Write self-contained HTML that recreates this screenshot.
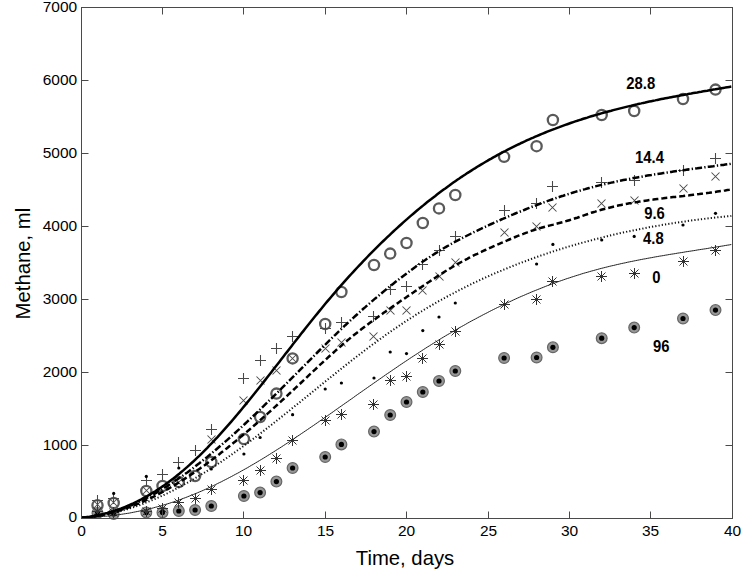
<!DOCTYPE html><html><head><meta charset="utf-8"><style>html,body{margin:0;padding:0;background:#fff;width:753px;height:585px;overflow:hidden}svg{display:block}</style></head><body><svg width="753" height="585" viewBox="0 0 753 585">
<rect width="753" height="585" fill="#fff"/>
<circle cx="97.5" cy="513.0" r="5.4" fill="#979797" stroke="#666" stroke-width="1.2"/><circle cx="97.5" cy="513.0" r="2.6" fill="#000"/>
<circle cx="113.7" cy="514.0" r="5.4" fill="#979797" stroke="#666" stroke-width="1.2"/><circle cx="113.7" cy="514.0" r="2.6" fill="#000"/>
<circle cx="146.3" cy="512.5" r="5.4" fill="#979797" stroke="#666" stroke-width="1.2"/><circle cx="146.3" cy="512.5" r="2.6" fill="#000"/>
<circle cx="162.5" cy="512.4" r="5.4" fill="#979797" stroke="#666" stroke-width="1.2"/><circle cx="162.5" cy="512.4" r="2.6" fill="#000"/>
<circle cx="178.8" cy="511.0" r="5.4" fill="#979797" stroke="#666" stroke-width="1.2"/><circle cx="178.8" cy="511.0" r="2.6" fill="#000"/>
<circle cx="195.1" cy="510.0" r="5.4" fill="#979797" stroke="#666" stroke-width="1.2"/><circle cx="195.1" cy="510.0" r="2.6" fill="#000"/>
<circle cx="211.3" cy="506.0" r="5.4" fill="#979797" stroke="#666" stroke-width="1.2"/><circle cx="211.3" cy="506.0" r="2.6" fill="#000"/>
<circle cx="243.9" cy="496.0" r="5.4" fill="#979797" stroke="#666" stroke-width="1.2"/><circle cx="243.9" cy="496.0" r="2.6" fill="#000"/>
<circle cx="260.1" cy="492.6" r="5.4" fill="#979797" stroke="#666" stroke-width="1.2"/><circle cx="260.1" cy="492.6" r="2.6" fill="#000"/>
<circle cx="276.4" cy="481.6" r="5.4" fill="#979797" stroke="#666" stroke-width="1.2"/><circle cx="276.4" cy="481.6" r="2.6" fill="#000"/>
<circle cx="292.6" cy="468.0" r="5.4" fill="#979797" stroke="#666" stroke-width="1.2"/><circle cx="292.6" cy="468.0" r="2.6" fill="#000"/>
<circle cx="325.2" cy="457.0" r="5.4" fill="#979797" stroke="#666" stroke-width="1.2"/><circle cx="325.2" cy="457.0" r="2.6" fill="#000"/>
<circle cx="341.4" cy="444.4" r="5.4" fill="#979797" stroke="#666" stroke-width="1.2"/><circle cx="341.4" cy="444.4" r="2.6" fill="#000"/>
<circle cx="374.0" cy="431.6" r="5.4" fill="#979797" stroke="#666" stroke-width="1.2"/><circle cx="374.0" cy="431.6" r="2.6" fill="#000"/>
<circle cx="390.2" cy="415.0" r="5.4" fill="#979797" stroke="#666" stroke-width="1.2"/><circle cx="390.2" cy="415.0" r="2.6" fill="#000"/>
<circle cx="406.5" cy="402.0" r="5.4" fill="#979797" stroke="#666" stroke-width="1.2"/><circle cx="406.5" cy="402.0" r="2.6" fill="#000"/>
<circle cx="422.8" cy="392.0" r="5.4" fill="#979797" stroke="#666" stroke-width="1.2"/><circle cx="422.8" cy="392.0" r="2.6" fill="#000"/>
<circle cx="439.0" cy="381.0" r="5.4" fill="#979797" stroke="#666" stroke-width="1.2"/><circle cx="439.0" cy="381.0" r="2.6" fill="#000"/>
<circle cx="455.3" cy="371.0" r="5.4" fill="#979797" stroke="#666" stroke-width="1.2"/><circle cx="455.3" cy="371.0" r="2.6" fill="#000"/>
<circle cx="504.1" cy="358.0" r="5.4" fill="#979797" stroke="#666" stroke-width="1.2"/><circle cx="504.1" cy="358.0" r="2.6" fill="#000"/>
<circle cx="536.6" cy="357.5" r="5.4" fill="#979797" stroke="#666" stroke-width="1.2"/><circle cx="536.6" cy="357.5" r="2.6" fill="#000"/>
<circle cx="552.9" cy="347.3" r="5.4" fill="#979797" stroke="#666" stroke-width="1.2"/><circle cx="552.9" cy="347.3" r="2.6" fill="#000"/>
<circle cx="601.7" cy="338.2" r="5.4" fill="#979797" stroke="#666" stroke-width="1.2"/><circle cx="601.7" cy="338.2" r="2.6" fill="#000"/>
<circle cx="634.2" cy="327.6" r="5.4" fill="#979797" stroke="#666" stroke-width="1.2"/><circle cx="634.2" cy="327.6" r="2.6" fill="#000"/>
<circle cx="683.0" cy="318.5" r="5.4" fill="#979797" stroke="#666" stroke-width="1.2"/><circle cx="683.0" cy="318.5" r="2.6" fill="#000"/>
<circle cx="715.5" cy="310.1" r="5.4" fill="#979797" stroke="#666" stroke-width="1.2"/><circle cx="715.5" cy="310.1" r="2.6" fill="#000"/>
<circle cx="97.5" cy="505.3" r="5.1" fill="none" stroke="#5a5a5a" stroke-width="2.3"/>
<circle cx="113.7" cy="503.0" r="5.1" fill="none" stroke="#5a5a5a" stroke-width="2.3"/>
<circle cx="146.3" cy="491.0" r="5.1" fill="none" stroke="#5a5a5a" stroke-width="2.3"/>
<circle cx="162.5" cy="486.0" r="5.1" fill="none" stroke="#5a5a5a" stroke-width="2.3"/>
<circle cx="178.8" cy="482.0" r="5.1" fill="none" stroke="#5a5a5a" stroke-width="2.3"/>
<circle cx="195.1" cy="476.0" r="5.1" fill="none" stroke="#5a5a5a" stroke-width="2.3"/>
<circle cx="211.3" cy="462.0" r="5.1" fill="none" stroke="#5a5a5a" stroke-width="2.3"/>
<circle cx="243.9" cy="439.0" r="5.1" fill="none" stroke="#5a5a5a" stroke-width="2.3"/>
<circle cx="260.1" cy="417.0" r="5.1" fill="none" stroke="#5a5a5a" stroke-width="2.3"/>
<circle cx="276.4" cy="393.6" r="5.1" fill="none" stroke="#5a5a5a" stroke-width="2.3"/>
<circle cx="292.6" cy="358.4" r="5.1" fill="none" stroke="#5a5a5a" stroke-width="2.3"/>
<circle cx="325.2" cy="324.0" r="5.1" fill="none" stroke="#5a5a5a" stroke-width="2.3"/>
<circle cx="341.4" cy="292.0" r="5.1" fill="none" stroke="#5a5a5a" stroke-width="2.3"/>
<circle cx="374.0" cy="265.0" r="5.1" fill="none" stroke="#5a5a5a" stroke-width="2.3"/>
<circle cx="390.2" cy="253.6" r="5.1" fill="none" stroke="#5a5a5a" stroke-width="2.3"/>
<circle cx="406.5" cy="243.0" r="5.1" fill="none" stroke="#5a5a5a" stroke-width="2.3"/>
<circle cx="422.8" cy="223.0" r="5.1" fill="none" stroke="#5a5a5a" stroke-width="2.3"/>
<circle cx="439.0" cy="208.4" r="5.1" fill="none" stroke="#5a5a5a" stroke-width="2.3"/>
<circle cx="455.3" cy="195.0" r="5.1" fill="none" stroke="#5a5a5a" stroke-width="2.3"/>
<circle cx="504.1" cy="156.8" r="5.1" fill="none" stroke="#5a5a5a" stroke-width="2.3"/>
<circle cx="536.6" cy="146.2" r="5.1" fill="none" stroke="#5a5a5a" stroke-width="2.3"/>
<circle cx="552.9" cy="120.0" r="5.1" fill="none" stroke="#5a5a5a" stroke-width="2.3"/>
<circle cx="601.7" cy="115.0" r="5.1" fill="none" stroke="#5a5a5a" stroke-width="2.3"/>
<circle cx="634.2" cy="111.0" r="5.1" fill="none" stroke="#5a5a5a" stroke-width="2.3"/>
<circle cx="683.0" cy="99.0" r="5.1" fill="none" stroke="#5a5a5a" stroke-width="2.3"/>
<circle cx="715.5" cy="89.6" r="5.1" fill="none" stroke="#5a5a5a" stroke-width="2.3"/>
<path d="M92.0,500.5H103.0M97.5,495.0V506.0" stroke="#484848" stroke-width="1.05" fill="none"/>
<path d="M108.0,498.5H119.0M113.5,493.0V504.0" stroke="#484848" stroke-width="1.05" fill="none"/>
<path d="M141.0,480.5H152.0M146.5,475.0V486.0" stroke="#484848" stroke-width="1.05" fill="none"/>
<path d="M157.0,474.5H168.0M162.5,469.0V480.0" stroke="#484848" stroke-width="1.05" fill="none"/>
<path d="M173.0,462.5H184.0M178.5,457.0V468.0" stroke="#484848" stroke-width="1.05" fill="none"/>
<path d="M190.0,450.5H201.0M195.5,445.0V456.0" stroke="#484848" stroke-width="1.05" fill="none"/>
<path d="M206.0,429.5H217.0M211.5,424.0V435.0" stroke="#484848" stroke-width="1.05" fill="none"/>
<path d="M238.0,378.5H249.0M243.5,373.0V384.0" stroke="#484848" stroke-width="1.05" fill="none"/>
<path d="M255.0,360.5H266.0M260.5,355.0V366.0" stroke="#484848" stroke-width="1.05" fill="none"/>
<path d="M271.0,348.5H282.0M276.5,343.0V354.0" stroke="#484848" stroke-width="1.05" fill="none"/>
<path d="M287.0,336.5H298.0M292.5,331.0V342.0" stroke="#484848" stroke-width="1.05" fill="none"/>
<path d="M320.0,328.5H331.0M325.5,323.0V334.0" stroke="#484848" stroke-width="1.05" fill="none"/>
<path d="M336.0,322.5H347.0M341.5,317.0V328.0" stroke="#484848" stroke-width="1.05" fill="none"/>
<path d="M368.0,316.5H379.0M373.5,311.0V322.0" stroke="#484848" stroke-width="1.05" fill="none"/>
<path d="M385.0,289.5H396.0M390.5,284.0V295.0" stroke="#484848" stroke-width="1.05" fill="none"/>
<path d="M401.0,286.5H412.0M406.5,281.0V292.0" stroke="#484848" stroke-width="1.05" fill="none"/>
<path d="M417.0,264.5H428.0M422.5,259.0V270.0" stroke="#484848" stroke-width="1.05" fill="none"/>
<path d="M434.0,250.5H445.0M439.5,245.0V256.0" stroke="#484848" stroke-width="1.05" fill="none"/>
<path d="M450.0,236.5H461.0M455.5,231.0V242.0" stroke="#484848" stroke-width="1.05" fill="none"/>
<path d="M499.0,210.5H510.0M504.5,205.0V216.0" stroke="#484848" stroke-width="1.05" fill="none"/>
<path d="M531.0,203.5H542.0M536.5,198.0V209.0" stroke="#484848" stroke-width="1.05" fill="none"/>
<path d="M547.0,186.5H558.0M552.5,181.0V192.0" stroke="#484848" stroke-width="1.05" fill="none"/>
<path d="M596.0,182.5H607.0M601.5,177.0V188.0" stroke="#484848" stroke-width="1.05" fill="none"/>
<path d="M629.0,180.5H640.0M634.5,175.0V186.0" stroke="#484848" stroke-width="1.05" fill="none"/>
<path d="M678.0,170.5H689.0M683.5,165.0V176.0" stroke="#484848" stroke-width="1.05" fill="none"/>
<path d="M710.0,158.5H721.0M715.5,153.0V164.0" stroke="#484848" stroke-width="1.05" fill="none"/>
<path d="M93.5,500.5L101.5,508.5M93.5,508.5L101.5,500.5" stroke="#484848" stroke-width="1.05" fill="none"/>
<path d="M109.5,498.5L117.5,506.5M109.5,506.5L117.5,498.5" stroke="#484848" stroke-width="1.05" fill="none"/>
<path d="M142.5,486.5L150.5,494.5M142.5,494.5L150.5,486.5" stroke="#484848" stroke-width="1.05" fill="none"/>
<path d="M174.5,478.5L182.5,486.5M174.5,486.5L182.5,478.5" stroke="#484848" stroke-width="1.05" fill="none"/>
<path d="M207.5,435.5L215.5,443.5M207.5,443.5L215.5,435.5" stroke="#484848" stroke-width="1.05" fill="none"/>
<path d="M239.5,396.5L247.5,404.5M239.5,404.5L247.5,396.5" stroke="#484848" stroke-width="1.05" fill="none"/>
<path d="M256.5,376.5L264.5,384.5M256.5,384.5L264.5,376.5" stroke="#484848" stroke-width="1.05" fill="none"/>
<path d="M272.5,366.5L280.5,374.5M272.5,374.5L280.5,366.5" stroke="#484848" stroke-width="1.05" fill="none"/>
<path d="M288.5,354.5L296.5,362.5M288.5,362.5L296.5,354.5" stroke="#484848" stroke-width="1.05" fill="none"/>
<path d="M321.5,344.5L329.5,352.5M321.5,352.5L329.5,344.5" stroke="#484848" stroke-width="1.05" fill="none"/>
<path d="M337.5,338.5L345.5,346.5M337.5,346.5L345.5,338.5" stroke="#484848" stroke-width="1.05" fill="none"/>
<path d="M369.5,332.5L377.5,340.5M369.5,340.5L377.5,332.5" stroke="#484848" stroke-width="1.05" fill="none"/>
<path d="M386.5,306.5L394.5,314.5M386.5,314.5L394.5,306.5" stroke="#484848" stroke-width="1.05" fill="none"/>
<path d="M402.5,306.5L410.5,314.5M402.5,314.5L410.5,306.5" stroke="#484848" stroke-width="1.05" fill="none"/>
<path d="M418.5,286.5L426.5,294.5M418.5,294.5L426.5,286.5" stroke="#484848" stroke-width="1.05" fill="none"/>
<path d="M435.5,272.5L443.5,280.5M435.5,280.5L443.5,272.5" stroke="#484848" stroke-width="1.05" fill="none"/>
<path d="M451.5,258.5L459.5,266.5M451.5,266.5L459.5,258.5" stroke="#484848" stroke-width="1.05" fill="none"/>
<path d="M500.5,228.5L508.5,236.5M500.5,236.5L508.5,228.5" stroke="#484848" stroke-width="1.05" fill="none"/>
<path d="M532.5,222.5L540.5,230.5M532.5,230.5L540.5,222.5" stroke="#484848" stroke-width="1.05" fill="none"/>
<path d="M548.5,203.5L556.5,211.5M548.5,211.5L556.5,203.5" stroke="#484848" stroke-width="1.05" fill="none"/>
<path d="M597.5,199.5L605.5,207.5M597.5,207.5L605.5,199.5" stroke="#484848" stroke-width="1.05" fill="none"/>
<path d="M630.5,196.5L638.5,204.5M630.5,204.5L638.5,196.5" stroke="#484848" stroke-width="1.05" fill="none"/>
<path d="M679.5,184.5L687.5,192.5M679.5,192.5L687.5,184.5" stroke="#484848" stroke-width="1.05" fill="none"/>
<path d="M711.5,172.5L719.5,180.5M711.5,180.5L719.5,172.5" stroke="#484848" stroke-width="1.05" fill="none"/>
<path d="M92.0,511.5H103.0M97.5,506.0V517.0M93.5,507.5L101.5,515.5M93.5,515.5L101.5,507.5" stroke="#333" stroke-width="1" fill="none"/>
<path d="M108.0,512.5H119.0M113.5,507.0V518.0M109.5,508.5L117.5,516.5M109.5,516.5L117.5,508.5" stroke="#333" stroke-width="1" fill="none"/>
<path d="M141.0,511.5H152.0M146.5,506.0V517.0M142.5,507.5L150.5,515.5M142.5,515.5L150.5,507.5" stroke="#333" stroke-width="1" fill="none"/>
<path d="M157.0,508.5H168.0M162.5,503.0V514.0M158.5,504.5L166.5,512.5M158.5,512.5L166.5,504.5" stroke="#333" stroke-width="1" fill="none"/>
<path d="M173.0,502.5H184.0M178.5,497.0V508.0M174.5,498.5L182.5,506.5M174.5,506.5L182.5,498.5" stroke="#333" stroke-width="1" fill="none"/>
<path d="M190.0,498.5H201.0M195.5,493.0V504.0M191.5,494.5L199.5,502.5M191.5,502.5L199.5,494.5" stroke="#333" stroke-width="1" fill="none"/>
<path d="M206.0,489.5H217.0M211.5,484.0V495.0M207.5,485.5L215.5,493.5M207.5,493.5L215.5,485.5" stroke="#333" stroke-width="1" fill="none"/>
<path d="M238.0,480.5H249.0M243.5,475.0V486.0M239.5,476.5L247.5,484.5M239.5,484.5L247.5,476.5" stroke="#333" stroke-width="1" fill="none"/>
<path d="M255.0,470.5H266.0M260.5,465.0V476.0M256.5,466.5L264.5,474.5M256.5,474.5L264.5,466.5" stroke="#333" stroke-width="1" fill="none"/>
<path d="M271.0,458.5H282.0M276.5,453.0V464.0M272.5,454.5L280.5,462.5M272.5,462.5L280.5,454.5" stroke="#333" stroke-width="1" fill="none"/>
<path d="M287.0,440.5H298.0M292.5,435.0V446.0M288.5,436.5L296.5,444.5M288.5,444.5L296.5,436.5" stroke="#333" stroke-width="1" fill="none"/>
<path d="M320.0,420.5H331.0M325.5,415.0V426.0M321.5,416.5L329.5,424.5M321.5,424.5L329.5,416.5" stroke="#333" stroke-width="1" fill="none"/>
<path d="M336.0,414.5H347.0M341.5,409.0V420.0M337.5,410.5L345.5,418.5M337.5,418.5L345.5,410.5" stroke="#333" stroke-width="1" fill="none"/>
<path d="M368.0,404.5H379.0M373.5,399.0V410.0M369.5,400.5L377.5,408.5M369.5,408.5L377.5,400.5" stroke="#333" stroke-width="1" fill="none"/>
<path d="M385.0,380.5H396.0M390.5,375.0V386.0M386.5,376.5L394.5,384.5M386.5,384.5L394.5,376.5" stroke="#333" stroke-width="1" fill="none"/>
<path d="M401.0,376.5H412.0M406.5,371.0V382.0M402.5,372.5L410.5,380.5M402.5,380.5L410.5,372.5" stroke="#333" stroke-width="1" fill="none"/>
<path d="M417.0,358.5H428.0M422.5,353.0V364.0M418.5,354.5L426.5,362.5M418.5,362.5L426.5,354.5" stroke="#333" stroke-width="1" fill="none"/>
<path d="M434.0,344.5H445.0M439.5,339.0V350.0M435.5,340.5L443.5,348.5M435.5,348.5L443.5,340.5" stroke="#333" stroke-width="1" fill="none"/>
<path d="M450.0,331.5H461.0M455.5,326.0V337.0M451.5,327.5L459.5,335.5M451.5,335.5L459.5,327.5" stroke="#333" stroke-width="1" fill="none"/>
<path d="M499.0,304.5H510.0M504.5,299.0V310.0M500.5,300.5L508.5,308.5M500.5,308.5L508.5,300.5" stroke="#333" stroke-width="1" fill="none"/>
<path d="M531.0,299.5H542.0M536.5,294.0V305.0M532.5,295.5L540.5,303.5M532.5,303.5L540.5,295.5" stroke="#333" stroke-width="1" fill="none"/>
<path d="M547.0,281.5H558.0M552.5,276.0V287.0M548.5,277.5L556.5,285.5M548.5,285.5L556.5,277.5" stroke="#333" stroke-width="1" fill="none"/>
<path d="M596.0,276.5H607.0M601.5,271.0V282.0M597.5,272.5L605.5,280.5M597.5,280.5L605.5,272.5" stroke="#333" stroke-width="1" fill="none"/>
<path d="M629.0,273.5H640.0M634.5,268.0V279.0M630.5,269.5L638.5,277.5M630.5,277.5L638.5,269.5" stroke="#333" stroke-width="1" fill="none"/>
<path d="M678.0,261.5H689.0M683.5,256.0V267.0M679.5,257.5L687.5,265.5M679.5,265.5L687.5,257.5" stroke="#333" stroke-width="1" fill="none"/>
<path d="M710.0,250.5H721.0M715.5,245.0V256.0M711.5,246.5L719.5,254.5M711.5,254.5L719.5,246.5" stroke="#333" stroke-width="1" fill="none"/>
<circle cx="113.7" cy="493.4" r="1.6" fill="#000"/>
<circle cx="146.3" cy="476.4" r="1.6" fill="#000"/>
<circle cx="178.8" cy="468.0" r="1.6" fill="#000"/>
<circle cx="211.3" cy="469.0" r="1.6" fill="#000"/>
<circle cx="243.9" cy="454.0" r="1.6" fill="#000"/>
<circle cx="260.1" cy="437.5" r="1.6" fill="#000"/>
<circle cx="292.6" cy="414.7" r="1.6" fill="#000"/>
<circle cx="325.2" cy="389.0" r="1.6" fill="#000"/>
<circle cx="341.4" cy="383.0" r="1.6" fill="#000"/>
<circle cx="374.0" cy="378.0" r="1.6" fill="#000"/>
<circle cx="390.2" cy="352.0" r="1.6" fill="#000"/>
<circle cx="406.5" cy="353.6" r="1.6" fill="#000"/>
<circle cx="422.8" cy="330.6" r="1.6" fill="#000"/>
<circle cx="439.0" cy="317.0" r="1.6" fill="#000"/>
<circle cx="455.3" cy="303.0" r="1.6" fill="#000"/>
<circle cx="536.6" cy="264.0" r="1.6" fill="#000"/>
<circle cx="552.9" cy="244.4" r="1.6" fill="#000"/>
<circle cx="601.7" cy="240.0" r="1.6" fill="#000"/>
<circle cx="634.2" cy="236.4" r="1.6" fill="#000"/>
<circle cx="683.0" cy="225.0" r="1.6" fill="#000"/>
<circle cx="715.5" cy="213.3" r="1.6" fill="#000"/>
<path d="M81.3,517.6 L83.3,517.6 L85.3,517.5 L87.3,517.5 L89.3,517.4 L91.3,517.3 L93.3,517.2 L95.3,517.1 L97.3,516.9 L99.3,516.8 L101.3,516.6 L103.3,516.4 L105.3,516.3 L107.3,516.1 L109.3,515.9 L111.3,515.6 L113.3,515.4 L115.3,515.2 L117.3,514.9 L119.3,514.6 L121.3,514.3 L123.3,514.0 L125.3,513.7 L127.3,513.4 L129.3,513.1 L131.3,512.7 L133.3,512.3 L135.3,511.9 L137.3,511.5 L139.3,511.1 L141.3,510.7 L143.3,510.3 L145.3,509.8 L147.3,509.4 L149.3,508.9 L151.3,508.4 L153.3,507.9 L155.3,507.3 L157.3,506.8 L159.3,506.3 L161.3,505.7 L163.3,505.1 L165.3,504.5 L167.3,503.9 L169.3,503.3 L171.3,502.6 L173.3,502.0 L175.3,501.3 L177.3,500.6 L179.3,499.9 L181.3,499.2 L183.3,498.4 L185.3,497.7 L187.3,496.9 L189.3,496.1 L191.3,495.3 L193.3,494.5 L195.3,493.7 L197.3,492.9 L199.3,492.0 L201.3,491.2 L203.3,490.3 L205.3,489.4 L207.3,488.5 L209.3,487.5 L211.3,486.6 L213.3,485.7 L215.3,484.7 L217.3,483.7 L219.3,482.7 L221.3,481.8 L223.3,480.7 L225.3,479.7 L227.3,478.7 L229.3,477.6 L231.3,476.6 L233.3,475.5 L235.3,474.4 L237.3,473.4 L239.3,472.3 L241.3,471.1 L243.3,470.0 L245.3,468.9 L247.3,467.8 L249.3,466.6 L251.3,465.4 L253.3,464.3 L255.3,463.1 L257.3,461.9 L259.3,460.7 L261.3,459.5 L263.3,458.3 L265.3,457.1 L267.3,455.8 L269.3,454.6 L271.3,453.3 L273.3,452.1 L275.3,450.8 L277.3,449.5 L279.3,448.3 L281.3,447.0 L283.3,445.7 L285.3,444.4 L287.3,443.1 L289.3,441.8 L291.3,440.4 L293.3,439.1 L295.3,437.8 L297.3,436.4 L299.3,435.1 L301.3,433.7 L303.3,432.4 L305.3,431.0 L307.3,429.7 L309.3,428.3 L311.3,426.9 L313.3,425.6 L315.3,424.2 L317.3,422.8 L319.3,421.4 L321.3,420.0 L323.3,418.6 L325.3,417.2 L327.3,415.9 L329.3,414.5 L331.3,413.1 L333.3,411.7 L335.3,410.2 L337.3,408.8 L339.3,407.4 L341.3,406.0 L343.3,404.6 L345.3,403.2 L347.3,401.8 L349.3,400.4 L351.3,399.0 L353.3,397.6 L355.3,396.1 L357.3,394.7 L359.3,393.3 L361.3,391.9 L363.3,390.5 L365.3,389.1 L367.3,387.7 L369.3,386.3 L371.3,384.9 L373.3,383.5 L375.3,382.1 L377.3,380.7 L379.3,379.3 L381.3,377.9 L383.3,376.5 L385.3,375.1 L387.3,373.7 L389.3,372.4 L391.3,371.0 L393.3,369.6 L395.3,368.3 L397.3,366.9 L399.3,365.5 L401.3,364.2 L403.3,362.8 L405.3,361.5 L407.3,360.2 L409.3,358.8 L411.3,357.5 L413.3,356.2 L415.3,354.9 L417.3,353.6 L419.3,352.3 L421.3,351.0 L423.3,349.7 L425.3,348.4 L427.3,347.1 L429.3,345.9 L431.3,344.6 L433.3,343.4 L435.3,342.1 L437.3,340.9 L439.3,339.7 L441.3,338.4 L443.3,337.2 L445.3,336.0 L447.3,334.8 L449.3,333.7 L451.3,332.5 L453.3,331.3 L455.3,330.1 L457.3,329.0 L459.3,327.8 L461.3,326.7 L463.3,325.6 L465.3,324.5 L467.3,323.3 L469.3,322.2 L471.3,321.1 L473.3,320.0 L475.3,319.0 L477.3,317.9 L479.3,316.8 L481.3,315.8 L483.3,314.7 L485.3,313.7 L487.3,312.7 L489.3,311.6 L491.3,310.6 L493.3,309.6 L495.3,308.6 L497.3,307.6 L499.3,306.7 L501.3,305.7 L503.3,304.7 L505.3,303.8 L507.3,302.8 L509.3,301.9 L511.3,301.0 L513.3,300.0 L515.3,299.1 L517.3,298.2 L519.3,297.3 L521.3,296.4 L523.3,295.6 L525.3,294.7 L527.3,293.8 L529.3,293.0 L531.3,292.1 L533.3,291.3 L535.3,290.5 L537.3,289.7 L539.3,288.9 L541.3,288.1 L543.3,287.3 L545.3,286.5 L547.3,285.7 L549.3,285.0 L551.3,284.2 L553.3,283.5 L555.3,282.8 L557.3,282.0 L559.3,281.3 L561.3,280.6 L563.3,279.9 L565.3,279.2 L567.3,278.5 L569.3,277.9 L571.3,277.2 L573.3,276.6 L575.3,275.9 L577.3,275.3 L579.3,274.7 L581.3,274.0 L583.3,273.4 L585.3,272.8 L587.3,272.3 L589.3,271.7 L591.3,271.1 L593.3,270.6 L595.3,270.0 L597.3,269.5 L599.3,268.9 L601.3,268.4 L603.3,267.9 L605.3,267.4 L607.3,266.9 L609.3,266.4 L611.3,265.9 L613.3,265.5 L615.3,265.0 L617.3,264.5 L619.3,264.1 L621.3,263.6 L623.3,263.2 L625.3,262.8 L627.3,262.3 L629.3,261.9 L631.3,261.5 L633.3,261.1 L635.3,260.7 L637.3,260.3 L639.3,259.9 L641.3,259.5 L643.3,259.1 L645.3,258.8 L647.3,258.4 L649.3,258.0 L651.3,257.7 L653.3,257.3 L655.3,256.9 L657.3,256.6 L659.3,256.2 L661.3,255.9 L663.3,255.6 L665.3,255.2 L667.3,254.9 L669.3,254.5 L671.3,254.2 L673.3,253.9 L675.3,253.6 L677.3,253.2 L679.3,252.9 L681.3,252.6 L683.3,252.3 L685.3,251.9 L687.3,251.6 L689.3,251.3 L691.3,251.0 L693.3,250.7 L695.3,250.4 L697.3,250.0 L699.3,249.7 L701.3,249.4 L703.3,249.1 L705.3,248.8 L707.3,248.5 L709.3,248.1 L711.3,247.8 L713.3,247.5 L715.3,247.2 L717.3,246.8 L719.3,246.5 L721.3,246.2 L723.3,245.9 L725.3,245.5 L727.3,245.2 L729.3,244.9 L731.3,244.5" fill="none" stroke="#222" stroke-width="1"/>
<path d="M81.3,517.5 L83.3,517.4 L85.3,517.3 L87.3,517.1 L89.3,516.9 L91.3,516.7 L93.3,516.5 L95.3,516.3 L97.3,516.0 L99.3,515.7 L101.3,515.4 L103.3,515.0 L105.3,514.6 L107.3,514.3 L109.3,513.8 L111.3,513.4 L113.3,513.0 L115.3,512.5 L117.3,512.0 L119.3,511.5 L121.3,510.9 L123.3,510.4 L125.3,509.8 L127.3,509.2 L129.3,508.6 L131.3,507.9 L133.3,507.3 L135.3,506.6 L137.3,505.9 L139.3,505.2 L141.3,504.5 L143.3,503.7 L145.3,502.9 L147.3,502.1 L149.3,501.3 L151.3,500.5 L153.3,499.7 L155.3,498.8 L157.3,497.9 L159.3,497.0 L161.3,496.1 L163.3,495.2 L165.3,494.2 L167.3,493.3 L169.3,492.3 L171.3,491.3 L173.3,490.3 L175.3,489.2 L177.3,488.2 L179.3,487.1 L181.3,486.1 L183.3,485.0 L185.3,483.9 L187.3,482.8 L189.3,481.6 L191.3,480.5 L193.3,479.3 L195.3,478.1 L197.3,477.0 L199.3,475.7 L201.3,474.5 L203.3,473.3 L205.3,472.1 L207.3,470.8 L209.3,469.5 L211.3,468.3 L213.3,467.0 L215.3,465.7 L217.3,464.3 L219.3,463.0 L221.3,461.7 L223.3,460.3 L225.3,459.0 L227.3,457.6 L229.3,456.2 L231.3,454.8 L233.3,453.4 L235.3,452.0 L237.3,450.5 L239.3,449.1 L241.3,447.7 L243.3,446.2 L245.3,444.7 L247.3,443.3 L249.3,441.8 L251.3,440.3 L253.3,438.8 L255.3,437.3 L257.3,435.8 L259.3,434.2 L261.3,432.7 L263.3,431.2 L265.3,429.6 L267.3,428.1 L269.3,426.5 L271.3,425.0 L273.3,423.4 L275.3,421.8 L277.3,420.2 L279.3,418.6 L281.3,417.1 L283.3,415.5 L285.3,413.9 L287.3,412.3 L289.3,410.7 L291.3,409.0 L293.3,407.4 L295.3,405.8 L297.3,404.2 L299.3,402.6 L301.3,401.0 L303.3,399.3 L305.3,397.7 L307.3,396.1 L309.3,394.5 L311.3,392.9 L313.3,391.2 L315.3,389.6 L317.3,388.0 L319.3,386.4 L321.3,384.7 L323.3,383.1 L325.3,381.5 L327.3,379.9 L329.3,378.3 L331.3,376.7 L333.3,375.1 L335.3,373.5 L337.3,371.9 L339.3,370.3 L341.3,368.7 L343.3,367.1 L345.3,365.5 L347.3,363.9 L349.3,362.4 L351.3,360.8 L353.3,359.2 L355.3,357.7 L357.3,356.1 L359.3,354.6 L361.3,353.1 L363.3,351.5 L365.3,350.0 L367.3,348.5 L369.3,347.0 L371.3,345.5 L373.3,344.0 L375.3,342.6 L377.3,341.1 L379.3,339.6 L381.3,338.2 L383.3,336.8 L385.3,335.3 L387.3,333.9 L389.3,332.5 L391.3,331.1 L393.3,329.7 L395.3,328.4 L397.3,327.0 L399.3,325.6 L401.3,324.3 L403.3,323.0 L405.3,321.6 L407.3,320.3 L409.3,319.0 L411.3,317.7 L413.3,316.5 L415.3,315.2 L417.3,313.9 L419.3,312.7 L421.3,311.5 L423.3,310.3 L425.3,309.0 L427.3,307.8 L429.3,306.7 L431.3,305.5 L433.3,304.3 L435.3,303.2 L437.3,302.0 L439.3,300.9 L441.3,299.8 L443.3,298.7 L445.3,297.6 L447.3,296.5 L449.3,295.4 L451.3,294.3 L453.3,293.3 L455.3,292.2 L457.3,291.2 L459.3,290.1 L461.3,289.1 L463.3,288.1 L465.3,287.1 L467.3,286.1 L469.3,285.1 L471.3,284.2 L473.3,283.2 L475.3,282.2 L477.3,281.3 L479.3,280.4 L481.3,279.4 L483.3,278.5 L485.3,277.6 L487.3,276.7 L489.3,275.8 L491.3,274.9 L493.3,274.1 L495.3,273.2 L497.3,272.3 L499.3,271.5 L501.3,270.7 L503.3,269.8 L505.3,269.0 L507.3,268.2 L509.3,267.4 L511.3,266.6 L513.3,265.8 L515.3,265.0 L517.3,264.2 L519.3,263.4 L521.3,262.7 L523.3,261.9 L525.3,261.2 L527.3,260.4 L529.3,259.7 L531.3,259.0 L533.3,258.3 L535.3,257.5 L537.3,256.8 L539.3,256.1 L541.3,255.4 L543.3,254.8 L545.3,254.1 L547.3,253.4 L549.3,252.7 L551.3,252.1 L553.3,251.4 L555.3,250.8 L557.3,250.1 L559.3,249.5 L561.3,248.9 L563.3,248.3 L565.3,247.7 L567.3,247.0 L569.3,246.4 L571.3,245.9 L573.3,245.3 L575.3,244.7 L577.3,244.1 L579.3,243.5 L581.3,243.0 L583.3,242.4 L585.3,241.9 L587.3,241.3 L589.3,240.8 L591.3,240.3 L593.3,239.7 L595.3,239.2 L597.3,238.7 L599.3,238.2 L601.3,237.7 L603.3,237.2 L605.3,236.7 L607.3,236.2 L609.3,235.7 L611.3,235.2 L613.3,234.8 L615.3,234.3 L617.3,233.8 L619.3,233.4 L621.3,232.9 L623.3,232.5 L625.3,232.1 L627.3,231.6 L629.3,231.2 L631.3,230.8 L633.3,230.4 L635.3,230.0 L637.3,229.6 L639.3,229.2 L641.3,228.8 L643.3,228.4 L645.3,228.0 L647.3,227.6 L649.3,227.2 L651.3,226.9 L653.3,226.5 L655.3,226.2 L657.3,225.8 L659.3,225.5 L661.3,225.1 L663.3,224.8 L665.3,224.4 L667.3,224.1 L669.3,223.8 L671.3,223.5 L673.3,223.1 L675.3,222.8 L677.3,222.5 L679.3,222.2 L681.3,221.9 L683.3,221.6 L685.3,221.4 L687.3,221.1 L689.3,220.8 L691.3,220.5 L693.3,220.2 L695.3,220.0 L697.3,219.7 L699.3,219.5 L701.3,219.2 L703.3,219.0 L705.3,218.7 L707.3,218.5 L709.3,218.2 L711.3,218.0 L713.3,217.8 L715.3,217.5 L717.3,217.3 L719.3,217.1 L721.3,216.9 L723.3,216.7 L725.3,216.5 L727.3,216.3 L729.3,216.1 L731.3,215.9" fill="none" stroke="#111" stroke-width="2" stroke-dasharray="1.2 2.1"/>
<path d="M81.3,517.7 L83.3,517.6 L85.3,517.4 L87.3,517.2 L89.3,517.0 L91.3,516.8 L93.3,516.5 L95.3,516.2 L97.3,515.9 L99.3,515.5 L101.3,515.1 L103.3,514.7 L105.3,514.3 L107.3,513.9 L109.3,513.4 L111.3,512.9 L113.3,512.3 L115.3,511.8 L117.3,511.2 L119.3,510.6 L121.3,510.0 L123.3,509.3 L125.3,508.6 L127.3,507.9 L129.3,507.2 L131.3,506.5 L133.3,505.7 L135.3,504.9 L137.3,504.1 L139.3,503.3 L141.3,502.4 L143.3,501.5 L145.3,500.6 L147.3,499.7 L149.3,498.7 L151.3,497.8 L153.3,496.8 L155.3,495.8 L157.3,494.8 L159.3,493.7 L161.3,492.6 L163.3,491.6 L165.3,490.5 L167.3,489.3 L169.3,488.2 L171.3,487.0 L173.3,485.8 L175.3,484.6 L177.3,483.4 L179.3,482.2 L181.3,480.9 L183.3,479.7 L185.3,478.4 L187.3,477.1 L189.3,475.8 L191.3,474.4 L193.3,473.1 L195.3,471.7 L197.3,470.3 L199.3,468.9 L201.3,467.5 L203.3,466.1 L205.3,464.7 L207.3,463.2 L209.3,461.7 L211.3,460.2 L213.3,458.7 L215.3,457.2 L217.3,455.7 L219.3,454.2 L221.3,452.6 L223.3,451.1 L225.3,449.5 L227.3,447.9 L229.3,446.3 L231.3,444.7 L233.3,443.0 L235.3,441.4 L237.3,439.8 L239.3,438.1 L241.3,436.4 L243.3,434.8 L245.3,433.1 L247.3,431.4 L249.3,429.7 L251.3,427.9 L253.3,426.2 L255.3,424.5 L257.3,422.7 L259.3,421.0 L261.3,419.2 L263.3,417.4 L265.3,415.6 L267.3,413.9 L269.3,412.1 L271.3,410.3 L273.3,408.4 L275.3,406.6 L277.3,404.8 L279.3,403.0 L281.3,401.1 L283.3,399.3 L285.3,397.5 L287.3,395.6 L289.3,393.7 L291.3,391.9 L293.3,390.0 L295.3,388.1 L297.3,386.3 L299.3,384.4 L301.3,382.5 L303.3,380.6 L305.3,378.7 L307.3,376.8 L309.3,374.9 L311.3,373.1 L313.3,371.2 L315.3,369.3 L317.3,367.4 L319.3,365.5 L321.3,363.7 L323.3,361.8 L325.3,360.0 L327.3,358.1 L329.3,356.3 L331.3,354.5 L333.3,352.7 L335.3,350.9 L337.3,349.1 L339.3,347.4 L341.3,345.7 L343.3,343.9 L345.3,342.2 L347.3,340.5 L349.3,338.9 L351.3,337.2 L353.3,335.6 L355.3,334.0 L357.3,332.4 L359.3,330.9 L361.3,329.3 L363.3,327.8 L365.3,326.3 L367.3,324.8 L369.3,323.3 L371.3,321.8 L373.3,320.3 L375.3,318.9 L377.3,317.4 L379.3,316.0 L381.3,314.6 L383.3,313.1 L385.3,311.7 L387.3,310.3 L389.3,308.9 L391.3,307.5 L393.3,306.1 L395.3,304.8 L397.3,303.4 L399.3,302.0 L401.3,300.6 L403.3,299.3 L405.3,297.9 L407.3,296.5 L409.3,295.2 L411.3,293.8 L413.3,292.5 L415.3,291.1 L417.3,289.8 L419.3,288.4 L421.3,287.1 L423.3,285.7 L425.3,284.4 L427.3,283.0 L429.3,281.7 L431.3,280.4 L433.3,279.0 L435.3,277.7 L437.3,276.4 L439.3,275.1 L441.3,273.9 L443.3,272.6 L445.3,271.3 L447.3,270.1 L449.3,268.9 L451.3,267.7 L453.3,266.5 L455.3,265.3 L457.3,264.2 L459.3,263.1 L461.3,262.0 L463.3,260.9 L465.3,259.8 L467.3,258.8 L469.3,257.7 L471.3,256.7 L473.3,255.7 L475.3,254.7 L477.3,253.8 L479.3,252.8 L481.3,251.9 L483.3,250.9 L485.3,250.0 L487.3,249.1 L489.3,248.2 L491.3,247.3 L493.3,246.4 L495.3,245.5 L497.3,244.7 L499.3,243.8 L501.3,242.9 L503.3,242.1 L505.3,241.2 L507.3,240.4 L509.3,239.5 L511.3,238.7 L513.3,237.9 L515.3,237.0 L517.3,236.2 L519.3,235.4 L521.3,234.6 L523.3,233.9 L525.3,233.1 L527.3,232.4 L529.3,231.6 L531.3,230.9 L533.3,230.3 L535.3,229.6 L537.3,229.0 L539.3,228.3 L541.3,227.8 L543.3,227.2 L545.3,226.6 L547.3,226.1 L549.3,225.6 L551.3,225.1 L553.3,224.6 L555.3,224.0 L557.3,223.5 L559.3,223.0 L561.3,222.5 L563.3,222.0 L565.3,221.4 L567.3,220.8 L569.3,220.2 L571.3,219.6 L573.3,219.0 L575.3,218.3 L577.3,217.7 L579.3,217.0 L581.3,216.3 L583.3,215.6 L585.3,214.9 L587.3,214.2 L589.3,213.5 L591.3,212.8 L593.3,212.2 L595.3,211.6 L597.3,210.9 L599.3,210.4 L601.3,209.8 L603.3,209.2 L605.3,208.7 L607.3,208.2 L609.3,207.7 L611.3,207.2 L613.3,206.7 L615.3,206.2 L617.3,205.8 L619.3,205.3 L621.3,204.9 L623.3,204.5 L625.3,204.1 L627.3,203.7 L629.3,203.3 L631.3,203.0 L633.3,202.6 L635.3,202.3 L637.3,202.0 L639.3,201.6 L641.3,201.3 L643.3,201.0 L645.3,200.7 L647.3,200.4 L649.3,200.1 L651.3,199.8 L653.3,199.6 L655.3,199.3 L657.3,199.0 L659.3,198.8 L661.3,198.5 L663.3,198.3 L665.3,198.0 L667.3,197.8 L669.3,197.6 L671.3,197.3 L673.3,197.1 L675.3,196.9 L677.3,196.6 L679.3,196.4 L681.3,196.2 L683.3,196.0 L685.3,195.7 L687.3,195.5 L689.3,195.3 L691.3,195.0 L693.3,194.8 L695.3,194.6 L697.3,194.3 L699.3,194.1 L701.3,193.8 L703.3,193.6 L705.3,193.3 L707.3,193.0 L709.3,192.8 L711.3,192.5 L713.3,192.2 L715.3,191.9 L717.3,191.6 L719.3,191.3 L721.3,191.0 L723.3,190.7 L725.3,190.4 L727.3,190.0 L729.3,189.7 L731.3,189.3" fill="none" stroke="#000" stroke-width="2.5" stroke-dasharray="6 3"/>
<path d="M81.3,517.7 L83.3,517.6 L85.3,517.4 L87.3,517.2 L89.3,517.0 L91.3,516.7 L93.3,516.4 L95.3,516.1 L97.3,515.8 L99.3,515.4 L101.3,515.0 L103.3,514.5 L105.3,514.1 L107.3,513.6 L109.3,513.0 L111.3,512.5 L113.3,511.9 L115.3,511.3 L117.3,510.6 L119.3,509.9 L121.3,509.2 L123.3,508.5 L125.3,507.7 L127.3,507.0 L129.3,506.1 L131.3,505.3 L133.3,504.4 L135.3,503.6 L137.3,502.6 L139.3,501.7 L141.3,500.7 L143.3,499.7 L145.3,498.7 L147.3,497.7 L149.3,496.6 L151.3,495.6 L153.3,494.4 L155.3,493.3 L157.3,492.2 L159.3,491.0 L161.3,489.8 L163.3,488.6 L165.3,487.3 L167.3,486.1 L169.3,484.8 L171.3,483.5 L173.3,482.2 L175.3,480.8 L177.3,479.5 L179.3,478.1 L181.3,476.7 L183.3,475.3 L185.3,473.8 L187.3,472.4 L189.3,470.9 L191.3,469.4 L193.3,467.9 L195.3,466.4 L197.3,464.8 L199.3,463.3 L201.3,461.7 L203.3,460.1 L205.3,458.5 L207.3,456.9 L209.3,455.2 L211.3,453.6 L213.3,451.9 L215.3,450.2 L217.3,448.5 L219.3,446.8 L221.3,445.1 L223.3,443.4 L225.3,441.6 L227.3,439.9 L229.3,438.1 L231.3,436.3 L233.3,434.5 L235.3,432.7 L237.3,430.9 L239.3,429.1 L241.3,427.2 L243.3,425.4 L245.3,423.5 L247.3,421.6 L249.3,419.8 L251.3,417.9 L253.3,416.0 L255.3,414.1 L257.3,412.2 L259.3,410.3 L261.3,408.3 L263.3,406.4 L265.3,404.4 L267.3,402.5 L269.3,400.5 L271.3,398.6 L273.3,396.6 L275.3,394.6 L277.3,392.7 L279.3,390.7 L281.3,388.7 L283.3,386.7 L285.3,384.7 L287.3,382.7 L289.3,380.7 L291.3,378.7 L293.3,376.7 L295.3,374.7 L297.3,372.7 L299.3,370.7 L301.3,368.6 L303.3,366.6 L305.3,364.6 L307.3,362.6 L309.3,360.6 L311.3,358.6 L313.3,356.5 L315.3,354.5 L317.3,352.5 L319.3,350.5 L321.3,348.5 L323.3,346.5 L325.3,344.6 L327.3,342.6 L329.3,340.6 L331.3,338.7 L333.3,336.7 L335.3,334.8 L337.3,332.8 L339.3,330.9 L341.3,329.0 L343.3,327.1 L345.3,325.2 L347.3,323.4 L349.3,321.5 L351.3,319.7 L353.3,317.8 L355.3,316.0 L357.3,314.2 L359.3,312.4 L361.3,310.6 L363.3,308.8 L365.3,307.1 L367.3,305.3 L369.3,303.6 L371.3,301.9 L373.3,300.1 L375.3,298.4 L377.3,296.8 L379.3,295.1 L381.3,293.4 L383.3,291.8 L385.3,290.1 L387.3,288.5 L389.3,286.9 L391.3,285.3 L393.3,283.7 L395.3,282.1 L397.3,280.5 L399.3,279.0 L401.3,277.4 L403.3,275.9 L405.3,274.4 L407.3,272.9 L409.3,271.4 L411.3,269.9 L413.3,268.4 L415.3,267.0 L417.3,265.5 L419.3,264.1 L421.3,262.7 L423.3,261.3 L425.3,260.0 L427.3,258.6 L429.3,257.3 L431.3,256.0 L433.3,254.7 L435.3,253.4 L437.3,252.2 L439.3,250.9 L441.3,249.7 L443.3,248.5 L445.3,247.3 L447.3,246.2 L449.3,245.0 L451.3,243.9 L453.3,242.8 L455.3,241.7 L457.3,240.6 L459.3,239.6 L461.3,238.5 L463.3,237.5 L465.3,236.5 L467.3,235.5 L469.3,234.5 L471.3,233.5 L473.3,232.5 L475.3,231.5 L477.3,230.6 L479.3,229.6 L481.3,228.7 L483.3,227.7 L485.3,226.8 L487.3,225.9 L489.3,224.9 L491.3,224.0 L493.3,223.1 L495.3,222.2 L497.3,221.3 L499.3,220.4 L501.3,219.5 L503.3,218.7 L505.3,217.8 L507.3,216.9 L509.3,216.1 L511.3,215.2 L513.3,214.4 L515.3,213.5 L517.3,212.7 L519.3,211.9 L521.3,211.1 L523.3,210.3 L525.3,209.5 L527.3,208.7 L529.3,207.9 L531.3,207.1 L533.3,206.3 L535.3,205.6 L537.3,204.8 L539.3,204.0 L541.3,203.3 L543.3,202.6 L545.3,201.8 L547.3,201.1 L549.3,200.4 L551.3,199.7 L553.3,199.0 L555.3,198.3 L557.3,197.7 L559.3,197.0 L561.3,196.3 L563.3,195.7 L565.3,195.0 L567.3,194.4 L569.3,193.8 L571.3,193.1 L573.3,192.5 L575.3,191.9 L577.3,191.3 L579.3,190.8 L581.3,190.2 L583.3,189.6 L585.3,189.1 L587.3,188.5 L589.3,188.0 L591.3,187.5 L593.3,186.9 L595.3,186.4 L597.3,185.9 L599.3,185.4 L601.3,184.9 L603.3,184.5 L605.3,184.0 L607.3,183.5 L609.3,183.1 L611.3,182.6 L613.3,182.2 L615.3,181.7 L617.3,181.3 L619.3,180.9 L621.3,180.5 L623.3,180.1 L625.3,179.7 L627.3,179.3 L629.3,178.9 L631.3,178.5 L633.3,178.1 L635.3,177.8 L637.3,177.4 L639.3,177.0 L641.3,176.7 L643.3,176.3 L645.3,176.0 L647.3,175.6 L649.3,175.3 L651.3,175.0 L653.3,174.6 L655.3,174.3 L657.3,174.0 L659.3,173.7 L661.3,173.4 L663.3,173.1 L665.3,172.8 L667.3,172.5 L669.3,172.2 L671.3,171.9 L673.3,171.6 L675.3,171.3 L677.3,171.0 L679.3,170.7 L681.3,170.4 L683.3,170.2 L685.3,169.9 L687.3,169.6 L689.3,169.3 L691.3,169.1 L693.3,168.8 L695.3,168.5 L697.3,168.3 L699.3,168.0 L701.3,167.7 L703.3,167.5 L705.3,167.2 L707.3,166.9 L709.3,166.7 L711.3,166.4 L713.3,166.2 L715.3,165.9 L717.3,165.6 L719.3,165.4 L721.3,165.1 L723.3,164.9 L725.3,164.6 L727.3,164.3 L729.3,164.1 L731.3,163.8" fill="none" stroke="#000" stroke-width="2.5" stroke-dasharray="7 2.2 1.3 2.2"/>
<path d="M81.3,517.6 L83.3,517.4 L85.3,517.2 L87.3,516.9 L89.3,516.7 L91.3,516.4 L93.3,516.0 L95.3,515.7 L97.3,515.3 L99.3,514.9 L101.3,514.4 L103.3,514.0 L105.3,513.4 L107.3,512.9 L109.3,512.3 L111.3,511.8 L113.3,511.1 L115.3,510.5 L117.3,509.8 L119.3,509.1 L121.3,508.4 L123.3,507.6 L125.3,506.8 L127.3,506.0 L129.3,505.1 L131.3,504.2 L133.3,503.3 L135.3,502.3 L137.3,501.4 L139.3,500.3 L141.3,499.3 L143.3,498.2 L145.3,497.1 L147.3,496.0 L149.3,494.8 L151.3,493.7 L153.3,492.4 L155.3,491.2 L157.3,489.9 L159.3,488.6 L161.3,487.2 L163.3,485.9 L165.3,484.4 L167.3,483.0 L169.3,481.5 L171.3,480.0 L173.3,478.5 L175.3,476.9 L177.3,475.3 L179.3,473.7 L181.3,472.0 L183.3,470.4 L185.3,468.6 L187.3,466.9 L189.3,465.1 L191.3,463.3 L193.3,461.5 L195.3,459.6 L197.3,457.7 L199.3,455.8 L201.3,453.8 L203.3,451.8 L205.3,449.8 L207.3,447.8 L209.3,445.7 L211.3,443.7 L213.3,441.6 L215.3,439.4 L217.3,437.3 L219.3,435.1 L221.3,432.9 L223.3,430.7 L225.3,428.4 L227.3,426.2 L229.3,423.9 L231.3,421.6 L233.3,419.2 L235.3,416.9 L237.3,414.5 L239.3,412.1 L241.3,409.7 L243.3,407.3 L245.3,404.9 L247.3,402.4 L249.3,400.0 L251.3,397.5 L253.3,395.0 L255.3,392.5 L257.3,390.0 L259.3,387.5 L261.3,384.9 L263.3,382.4 L265.3,379.9 L267.3,377.3 L269.3,374.7 L271.3,372.2 L273.3,369.6 L275.3,367.0 L277.3,364.5 L279.3,361.9 L281.3,359.3 L283.3,356.7 L285.3,354.1 L287.3,351.6 L289.3,349.0 L291.3,346.4 L293.3,343.8 L295.3,341.3 L297.3,338.7 L299.3,336.2 L301.3,333.6 L303.3,331.1 L305.3,328.5 L307.3,326.0 L309.3,323.5 L311.3,321.0 L313.3,318.5 L315.3,316.0 L317.3,313.6 L319.3,311.1 L321.3,308.7 L323.3,306.2 L325.3,303.8 L327.3,301.4 L329.3,299.1 L331.3,296.7 L333.3,294.4 L335.3,292.0 L337.3,289.7 L339.3,287.4 L341.3,285.2 L343.3,282.9 L345.3,280.6 L347.3,278.4 L349.3,276.2 L351.3,274.0 L353.3,271.8 L355.3,269.7 L357.3,267.5 L359.3,265.4 L361.3,263.3 L363.3,261.2 L365.3,259.1 L367.3,257.0 L369.3,254.9 L371.3,252.9 L373.3,250.9 L375.3,248.9 L377.3,246.9 L379.3,244.9 L381.3,242.9 L383.3,241.0 L385.3,239.1 L387.3,237.2 L389.3,235.3 L391.3,233.4 L393.3,231.5 L395.3,229.7 L397.3,227.8 L399.3,226.0 L401.3,224.2 L403.3,222.4 L405.3,220.6 L407.3,218.9 L409.3,217.1 L411.3,215.4 L413.3,213.7 L415.3,212.0 L417.3,210.3 L419.3,208.6 L421.3,207.0 L423.3,205.4 L425.3,203.7 L427.3,202.1 L429.3,200.5 L431.3,199.0 L433.3,197.4 L435.3,195.9 L437.3,194.3 L439.3,192.8 L441.3,191.3 L443.3,189.8 L445.3,188.4 L447.3,186.9 L449.3,185.5 L451.3,184.0 L453.3,182.6 L455.3,181.2 L457.3,179.8 L459.3,178.5 L461.3,177.1 L463.3,175.8 L465.3,174.5 L467.3,173.1 L469.3,171.9 L471.3,170.6 L473.3,169.3 L475.3,168.1 L477.3,166.8 L479.3,165.6 L481.3,164.4 L483.3,163.2 L485.3,162.0 L487.3,160.9 L489.3,159.7 L491.3,158.6 L493.3,157.4 L495.3,156.3 L497.3,155.2 L499.3,154.1 L501.3,153.1 L503.3,152.0 L505.3,151.0 L507.3,149.9 L509.3,148.9 L511.3,147.9 L513.3,146.9 L515.3,145.9 L517.3,144.9 L519.3,144.0 L521.3,143.0 L523.3,142.1 L525.3,141.2 L527.3,140.2 L529.3,139.3 L531.3,138.4 L533.3,137.6 L535.3,136.7 L537.3,135.8 L539.3,135.0 L541.3,134.1 L543.3,133.3 L545.3,132.5 L547.3,131.7 L549.3,130.9 L551.3,130.1 L553.3,129.3 L555.3,128.6 L557.3,127.8 L559.3,127.1 L561.3,126.3 L563.3,125.6 L565.3,124.9 L567.3,124.2 L569.3,123.5 L571.3,122.8 L573.3,122.1 L575.3,121.4 L577.3,120.8 L579.3,120.1 L581.3,119.5 L583.3,118.8 L585.3,118.2 L587.3,117.6 L589.3,116.9 L591.3,116.3 L593.3,115.7 L595.3,115.1 L597.3,114.6 L599.3,114.0 L601.3,113.4 L603.3,112.8 L605.3,112.3 L607.3,111.7 L609.3,111.2 L611.3,110.7 L613.3,110.1 L615.3,109.6 L617.3,109.1 L619.3,108.6 L621.3,108.1 L623.3,107.6 L625.3,107.1 L627.3,106.6 L629.3,106.1 L631.3,105.7 L633.3,105.2 L635.3,104.7 L637.3,104.3 L639.3,103.8 L641.3,103.4 L643.3,102.9 L645.3,102.5 L647.3,102.0 L649.3,101.6 L651.3,101.2 L653.3,100.8 L655.3,100.4 L657.3,99.9 L659.3,99.5 L661.3,99.1 L663.3,98.7 L665.3,98.3 L667.3,97.9 L669.3,97.6 L671.3,97.2 L673.3,96.8 L675.3,96.4 L677.3,96.0 L679.3,95.7 L681.3,95.3 L683.3,94.9 L685.3,94.5 L687.3,94.2 L689.3,93.8 L691.3,93.5 L693.3,93.1 L695.3,92.7 L697.3,92.4 L699.3,92.0 L701.3,91.7 L703.3,91.3 L705.3,91.0 L707.3,90.7 L709.3,90.3 L711.3,90.0 L713.3,89.6 L715.3,89.3 L717.3,88.9 L719.3,88.6 L721.3,88.3 L723.3,87.9 L725.3,87.6 L727.3,87.2 L729.3,86.9 L731.3,86.6" fill="none" stroke="#000" stroke-width="2.5"/>
<rect x="81.5" y="7.5" width="651.0" height="511.0" fill="none" stroke="#4a4a4a" stroke-width="1"/>
<path d="M162.5,518.5v-7M162.5,7.5v7M243.5,518.5v-7M243.5,7.5v7M325.5,518.5v-7M325.5,7.5v7M406.5,518.5v-7M406.5,7.5v7M488.5,518.5v-7M488.5,7.5v7M569.5,518.5v-7M569.5,7.5v7M650.5,518.5v-7M650.5,7.5v7M81.5,445.5h7M732.5,445.5h-7M81.5,372.5h7M732.5,372.5h-7M81.5,299.5h7M732.5,299.5h-7M81.5,226.5h7M732.5,226.5h-7M81.5,153.5h7M732.5,153.5h-7M81.5,80.5h7M732.5,80.5h-7" stroke="#4a4a4a" stroke-width="1" fill="none"/>
<g font-family="Liberation Sans, sans-serif" font-size="15.5" fill="#000"><text transform="translate(81.5,536.3) scale(1.0,0.98)" text-anchor="middle">0</text><text transform="translate(162.5,536.3) scale(1.0,0.98)" text-anchor="middle">5</text><text transform="translate(243.5,536.3) scale(1.0,0.98)" text-anchor="middle">10</text><text transform="translate(325.5,536.3) scale(1.0,0.98)" text-anchor="middle">15</text><text transform="translate(406.5,536.3) scale(1.0,0.98)" text-anchor="middle">20</text><text transform="translate(488.5,536.3) scale(1.0,0.98)" text-anchor="middle">25</text><text transform="translate(569.5,536.3) scale(1.0,0.98)" text-anchor="middle">30</text><text transform="translate(650.5,536.3) scale(1.0,0.98)" text-anchor="middle">35</text><text transform="translate(732.5,536.3) scale(1.0,0.98)" text-anchor="middle">40</text><text transform="translate(77.2,522.4) scale(1.0,0.98)" text-anchor="end">0</text><text transform="translate(77.2,450.4) scale(1.0,0.98)" text-anchor="end">1000</text><text transform="translate(77.2,377.4) scale(1.0,0.98)" text-anchor="end">2000</text><text transform="translate(77.2,304.4) scale(1.0,0.98)" text-anchor="end">3000</text><text transform="translate(77.2,231.4) scale(1.0,0.98)" text-anchor="end">4000</text><text transform="translate(77.2,158.4) scale(1.0,0.98)" text-anchor="end">5000</text><text transform="translate(77.2,85.4) scale(1.0,0.98)" text-anchor="end">6000</text><text transform="translate(77.2,12.4) scale(1.0,0.98)" text-anchor="end">7000</text></g>
<text x="405" y="564.8" text-anchor="middle" font-family="Liberation Sans, sans-serif" font-size="20.3" fill="#000">Time, days</text>
<text transform="translate(29.5,263.6) rotate(-90)" x="0" y="0" text-anchor="middle" font-family="Liberation Sans, sans-serif" font-size="20.3" fill="#000">Methane, ml</text>
<g font-family="Liberation Sans, sans-serif" font-size="15" font-weight="bold" fill="#000"><text transform="translate(626.3,89) scale(0.99,1.07)">28.8</text><text transform="translate(635.0,162.6) scale(0.99,1.07)">14.4</text><text transform="translate(644.2,218.8) scale(0.99,1.07)">9.6</text><text transform="translate(643.1,244.4) scale(0.99,1.07)">4.8</text><text transform="translate(652.2,282.9) scale(0.99,1.07)">0</text><text transform="translate(653.0,352) scale(0.99,1.07)">96</text></g>
</svg></body></html>
